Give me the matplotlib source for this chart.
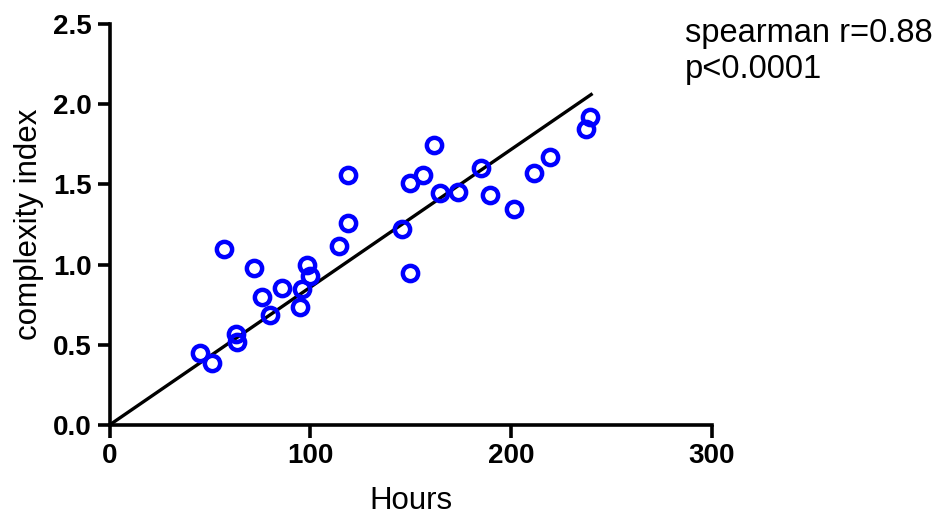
import matplotlib
matplotlib.use("Agg")
import matplotlib.pyplot as plt
import numpy as np

hours = [45, 51, 57, 63, 63.5, 72, 76, 80, 86, 95, 96, 98.5, 100, 114.5, 119, 119,
         145.5, 149.7, 149.7, 156, 161.8, 164.6, 173.7, 184.9, 189.8, 201.4, 211.4,
         219.4, 237.3, 239.6]
complexity = [0.447, 0.388, 1.095, 0.567, 0.515, 0.981, 0.796, 0.686, 0.852, 0.738, 0.846,
              0.998, 0.929, 1.118, 1.259, 1.557, 1.220, 0.946, 1.507, 1.559, 1.746, 1.445,
              1.455, 1.600, 1.434, 1.345, 1.569, 1.669, 1.843, 1.922]
fit_hours = [0, 240]
fit_index = [0.0, 2.06]
x_ticks = [0, 100, 200, 300]
y_ticks = [0.0, 0.5, 1.0, 1.5, 2.0, 2.5]
annotation = ["spearman r=0.88", "p<0.0001"]

plt.rcParams['font.family'] = ['Liberation Sans', 'DejaVu Sans']

fig = plt.figure(figsize=(9.4, 5.2), dpi=100)
ax = fig.add_axes([0.1165, 0.1827, 0.757 - 0.1165, 0.954 - 0.1827])

ax.plot(fit_hours, fit_index, color='black', lw=2.4, zorder=2)
ax.plot(hours, complexity, linestyle='none', marker='o', markersize=11,
        markerfacecolor='none', markeredgecolor='#0000ff', markeredgewidth=3.2, zorder=3)

for s in ['top', 'right']:
    ax.spines[s].set_visible(False)
for s in ['left', 'bottom']:
    ax.spines[s].set_linewidth(2.6)

ax.set_xlim(0, 300)
ax.set_ylim(0, 2.5)
ax.set_xticks(x_ticks)
ax.set_yticks(y_ticks)
ax.set_xticklabels([str(t) for t in x_ticks])
ax.set_yticklabels([f"{t:.1f}" for t in y_ticks])
ax.tick_params(direction='out', length=9, width=2.6, pad=4, labelsize=20)
for lab in ax.get_xticklabels() + ax.get_yticklabels():
    lab.set_fontweight('bold')
ax.set_xlabel("Hours", fontsize=22.5, labelpad=12)
ax.set_ylabel("complexity index", fontsize=22.5, labelpad=6)

fig.text(685 / 940, 1 - 42 / 520, annotation[0], fontsize=23.5, ha='left', va='baseline')
fig.text(685 / 940, 1 - 78 / 520, annotation[1], fontsize=23.5, ha='left', va='baseline')

fig.savefig("out.png", dpi=100)
